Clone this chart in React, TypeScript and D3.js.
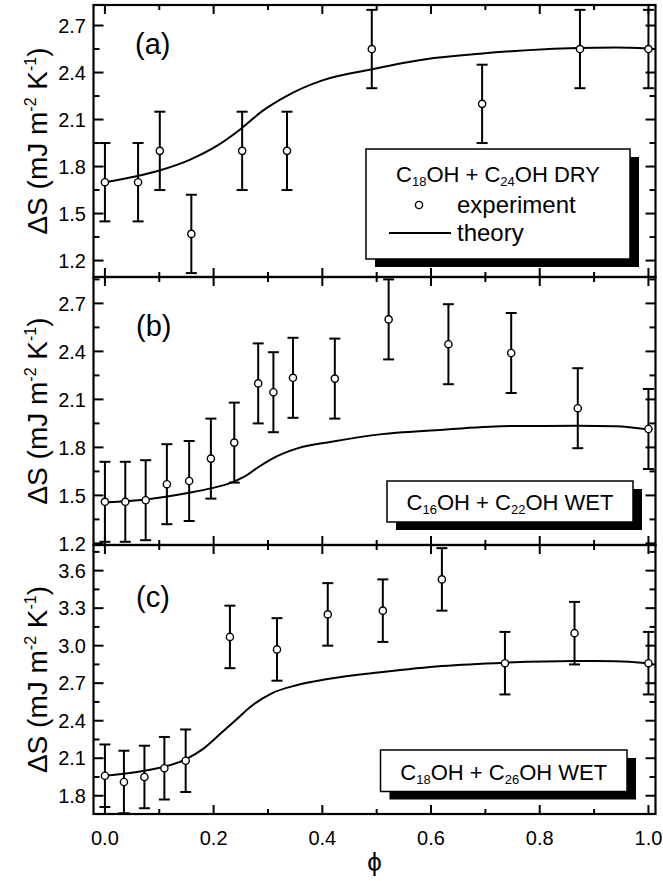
import React from "react";
import * as d3 from "d3";

// ---- data -----------------------------------------------------------------

const xTickValues = [0, 0.2, 0.4, 0.6, 0.8, 1.0];
const xTickLabels = ["0.0", "0.2", "0.4", "0.6", "0.8", "1.0"];
const xMinorValues = [0.1, 0.3, 0.5, 0.7, 0.9];

// (a) C18OH + C24OH, dry
const phiA = [0, 0.061, 0.101, 0.159, 0.2525, 0.335, 0.491, 0.694, 0.874, 1.0];
const dsA = [1.70, 1.70, 1.90, 1.37, 1.90, 1.90, 2.55, 2.20, 2.55, 2.55];
const errA = [0.25, 0.25, 0.25, 0.25, 0.25, 0.25, 0.25, 0.25, 0.25, 0.25];
const theoryPhiA = [0, 0.06, 0.10, 0.156, 0.205, 0.25, 0.29, 0.334, 0.40, 0.49, 0.59, 0.69, 0.78, 0.87, 0.94, 1.0];
const theoryA = [1.70, 1.74, 1.775, 1.843, 1.93, 2.04, 2.155, 2.25, 2.35, 2.42, 2.485, 2.52, 2.543, 2.556, 2.559, 2.553];
const yTicksA = [1.2, 1.5, 1.8, 2.1, 2.4, 2.7];
const yTickLabelsA = ["1.2", "1.5", "1.8", "2.1", "2.4", "2.7"];

// (b) C16OH + C22OH, wet
const phiB = [0, 0.0375, 0.075, 0.114, 0.155, 0.195, 0.238, 0.282, 0.31, 0.346, 0.423, 0.522, 0.632, 0.7475, 0.87, 1.0];
const dsB = [1.46, 1.46, 1.47, 1.57, 1.59, 1.73, 1.83, 2.20, 2.145, 2.235, 2.23, 2.60, 2.445, 2.39, 2.045, 1.915];
const errB = [0.25, 0.25, 0.25, 0.25, 0.25, 0.25, 0.25, 0.25, 0.25, 0.25, 0.25, 0.25, 0.25, 0.25, 0.25, 0.25];
const theoryPhiB = [0, 0.075, 0.155, 0.195, 0.229, 0.2565, 0.2835, 0.315, 0.354, 0.417, 0.51, 0.628, 0.745, 0.87, 0.94, 1.0];
const theoryB = [1.456, 1.475, 1.517, 1.544, 1.575, 1.617, 1.679, 1.742, 1.794, 1.835, 1.883, 1.912, 1.933, 1.935, 1.932, 1.912];
const yTicksB = [1.2, 1.5, 1.8, 2.1, 2.4, 2.7];
const yTickLabelsB = ["1.2", "1.5", "1.8", "2.1", "2.4", "2.7"];

// (c) C18OH + C26OH, wet
const phiC = [0, 0.035, 0.0727, 0.1094, 0.1486, 0.23, 0.3166, 0.41, 0.5113, 0.62, 0.736, 0.864, 1.0];
const dsC = [1.96, 1.91, 1.95, 2.02, 2.08, 3.07, 2.97, 3.25, 3.28, 3.53, 2.86, 3.10, 2.86];
const errC = [0.25, 0.25, 0.25, 0.25, 0.25, 0.25, 0.25, 0.25, 0.25, 0.25, 0.25, 0.25, 0.25];
const theoryPhiC = [0, 0.0727, 0.1486, 0.182, 0.2134, 0.2408, 0.268, 0.307, 0.354, 0.41, 0.511, 0.62, 0.736, 0.864, 0.94, 1.0];
const theoryC = [1.96, 2.0, 2.091, 2.179, 2.299, 2.405, 2.512, 2.619, 2.685, 2.733, 2.789, 2.837, 2.864, 2.877, 2.875, 2.859];
const yTicksC = [1.8, 2.1, 2.4, 2.7, 3.0, 3.3, 3.6];
const yTickLabelsC = ["1.8", "2.1", "2.4", "2.7", "3.0", "3.3", "3.6"];

// legend titles: [text, isSubscript]
const titleA: [string, boolean][] = [["C", false], ["18", true], ["OH + C", false], ["24", true], ["OH DRY", false]];
const titleB: [string, boolean][] = [["C", false], ["16", true], ["OH + C", false], ["22", true], ["OH WET", false]];
const titleC: [string, boolean][] = [["C", false], ["18", true], ["OH + C", false], ["26", true], ["OH WET", false]];

// ---- layout ---------------------------------------------------------------

const W = 663;
const H = 881;
const FONT = "'Liberation Sans', Arial, Helvetica, sans-serif";
const PLOT_LEFT = 93.5;
const PLOT_RIGHT = 655.5;
const X_DOMAIN: [number, number] = [-0.021, 1.013];
const MINOR_Y_STEP = 0.15;

interface Box { x: number; y: number; w: number; h: number; }

interface PanelSpec {
  tag: string;
  tagX: number;
  tagY: number;
  top: number;
  bottom: number;
  yDomain: [number, number];
  yTicks: number[];
  yTickLabels: string[];
  phi: number[];
  ds: number[];
  err: number[];
  tPhi: number[];
  tVal: number[];
  title: [string, boolean][];
  box: Box;
  titleY: number;
  fullLegend: boolean;
}

const panels: PanelSpec[] = [
  {
    tag: "(a)", tagX: 135, tagY: 54, top: 5, bottom: 277, yDomain: [1.095, 2.831],
    yTicks: yTicksA, yTickLabels: yTickLabelsA, phi: phiA, ds: dsA, err: errA,
    tPhi: theoryPhiA, tVal: theoryA, title: titleA,
    box: { x: 366, y: 149, w: 264, h: 110 }, titleY: 181.5, fullLegend: true,
  },
  {
    tag: "(b)", tagX: 136, tagY: 335.5, top: 277, bottom: 545, yDomain: [1.19, 2.865],
    yTicks: yTicksB, yTickLabels: yTickLabelsB, phi: phiB, ds: dsB, err: errB,
    tPhi: theoryPhiB, tVal: theoryB, title: titleB,
    box: { x: 387, y: 481, w: 246, h: 41 }, titleY: 509.5, fullLegend: false,
  },
  {
    tag: "(c)", tagX: 136, tagY: 607, top: 545, bottom: 814, yDomain: [1.654, 3.805],
    yTicks: yTicksC, yTickLabels: yTickLabelsC, phi: phiC, ds: dsC, err: errC,
    tPhi: theoryPhiC, tVal: theoryC, title: titleC,
    box: { x: 380.5, y: 750, w: 246.5, h: 41.5 }, titleY: 780, fullLegend: false,
  },
];

const xScale = d3.scaleLinear().domain(X_DOMAIN).range([PLOT_LEFT, PLOT_RIGHT]);

function SubTitle({ parts, x, y }: { parts: [string, boolean][]; x: number; y: number }) {
  let shift = 0;
  return (
    <text x={x} y={y} textAnchor="middle" fontFamily={FONT} fontSize={22} fill="#000">
      {parts.map(([t, sub], i) => {
        const target = sub ? 4 : 0;
        const dy = target - shift;
        shift = target;
        return (
          <tspan key={i} dy={dy} fontSize={sub ? 13 : 22}>{t}</tspan>
        );
      })}
    </text>
  );
}

function PanelView({ p, showXLabels }: { p: PanelSpec; showXLabels: boolean }) {
  const y = d3.scaleLinear().domain(p.yDomain).range([p.bottom, p.top]);
  const line = d3
    .line<number>()
    .x((_, i) => xScale(p.tPhi[i]))
    .y((d) => y(d))
    .curve(d3.curveMonotoneX);

  const minorY: number[] = [];
  p.yTicks.forEach((t) => {
    [t - MINOR_Y_STEP, t + MINOR_Y_STEP].forEach((m) => {
      const v = Math.round(m * 1000) / 1000;
      if (v > p.yDomain[0] && v < p.yDomain[1] && !p.yTicks.includes(v) && !minorY.includes(v)) minorY.push(v);
    });
  });

  const majorLenY = 10, minorLenY = 6, majorLenX = 9, minorLenX = 5;
  const capHalf = 5.5;
  const { box } = p;

  return (
    <g>
      {/* frame */}
      <rect x={PLOT_LEFT} y={p.top} width={PLOT_RIGHT - PLOT_LEFT} height={p.bottom - p.top}
        fill="none" stroke="#000" strokeWidth={2.2} />

      {/* x ticks, top and bottom, pointing inward */}
      <g stroke="#000" strokeWidth={2}>
        {xTickValues.map((v) => (
          <g key={"xm" + v}>
            <line x1={xScale(v)} x2={xScale(v)} y1={p.bottom} y2={p.bottom - majorLenX} />
            <line x1={xScale(v)} x2={xScale(v)} y1={p.top} y2={p.top + majorLenX} />
          </g>
        ))}
        {xMinorValues.map((v) => (
          <g key={"xn" + v}>
            <line x1={xScale(v)} x2={xScale(v)} y1={p.bottom} y2={p.bottom - minorLenX} />
            <line x1={xScale(v)} x2={xScale(v)} y1={p.top} y2={p.top + minorLenX} />
          </g>
        ))}
        {p.yTicks.map((v) => (
          <g key={"ym" + v}>
            <line x1={PLOT_LEFT} x2={PLOT_LEFT + majorLenY} y1={y(v)} y2={y(v)} />
            <line x1={PLOT_RIGHT} x2={PLOT_RIGHT - majorLenY} y1={y(v)} y2={y(v)} />
          </g>
        ))}
        {minorY.map((v) => (
          <g key={"yn" + v}>
            <line x1={PLOT_LEFT} x2={PLOT_LEFT + minorLenY} y1={y(v)} y2={y(v)} />
            <line x1={PLOT_RIGHT} x2={PLOT_RIGHT - minorLenY} y1={y(v)} y2={y(v)} />
          </g>
        ))}
      </g>

      {/* y tick labels */}
      {p.yTicks.map((v, i) => (
        <text key={"yl" + v} x={86} y={y(v)} dy="0.36em" textAnchor="end"
          fontFamily={FONT} fontSize={20} fill="#000">{p.yTickLabels[i]}</text>
      ))}

      {showXLabels &&
        xTickValues.map((v, i) => (
          <text key={"xl" + v} x={xScale(v)} y={p.bottom + 31} textAnchor="middle"
            fontFamily={FONT} fontSize={20} fill="#000">{xTickLabels[i]}</text>
        ))}

      {/* y axis title */}
      <text transform={`translate(47,${(p.top + p.bottom) / 2}) rotate(-90)`} textAnchor="middle"
        fontFamily={FONT} fontSize={28} fill="#000">
        <tspan>ΔS (mJ m</tspan>
        <tspan fontSize={16} dy={-11}>-2</tspan>
        <tspan fontSize={28} dy={11}> K</tspan>
        <tspan fontSize={16} dy={-11}>-1</tspan>
        <tspan fontSize={28} dy={11}>)</tspan>
      </text>

      {/* panel tag */}
      <text x={p.tagX} y={p.tagY} fontFamily={FONT} fontSize={29} fill="#000">{p.tag}</text>

      {/* legend box with drop shadow */}
      <rect x={box.x + 9} y={box.y + 8} width={box.w} height={box.h} fill="#000" />
      <rect x={box.x} y={box.y} width={box.w} height={box.h} fill="#fff" stroke="#000" strokeWidth={1.5} />
      <SubTitle parts={p.title} x={box.x + box.w / 2} y={p.titleY} />
      {p.fullLegend && (
        <g>
          <circle cx={419} cy={205} r={3.6} fill="#fff" stroke="#000" strokeWidth={1.4} />
          <text x={457} y={213} fontFamily={FONT} fontSize={24} fill="#000">experiment</text>
          <line x1={389} x2={451} y1={233} y2={233} stroke="#000" strokeWidth={1.8} />
          <text x={457} y={240.5} fontFamily={FONT} fontSize={24} fill="#000">theory</text>
        </g>
      )}

      {/* theory curve */}
      <path d={line(p.tVal) || ""} fill="none" stroke="#000" strokeWidth={2} />

      {/* error bars */}
      <g stroke="#000" strokeWidth={2}>
        {p.phi.map((ph, i) => {
          const cx = xScale(ph);
          const hi = y(p.ds[i] + p.err[i]);
          const lo = y(p.ds[i] - p.err[i]);
          return (
            <g key={"e" + i}>
              <line x1={cx} x2={cx} y1={hi} y2={lo} />
              <line x1={cx - capHalf} x2={cx + capHalf} y1={hi} y2={hi} />
              <line x1={cx - capHalf} x2={cx + capHalf} y1={lo} y2={lo} />
            </g>
          );
        })}
      </g>

      {/* experimental points */}
      {p.phi.map((ph, i) => (
        <circle key={"p" + i} cx={xScale(ph)} cy={y(p.ds[i])} r={3.6}
          fill="#fff" stroke="#000" strokeWidth={1.4} />
      ))}
    </g>
  );
}

export default function App() {
  return (
    <svg width={W} height={H} viewBox={`0 0 ${W} ${H}`}
      style={{ position: "absolute", left: 0, top: 0, background: "#fff" }}>
      <rect x={0} y={0} width={W} height={H} fill="#fff" />
      {panels.map((p, i) => (
        <PanelView key={p.tag} p={p} showXLabels={i === panels.length - 1} />
      ))}
      <text x={(PLOT_LEFT + PLOT_RIGHT) / 2} y={871} textAnchor="middle"
        fontFamily={FONT} fontSize={26} fill="#000">ϕ</text>
    </svg>
  );
}
